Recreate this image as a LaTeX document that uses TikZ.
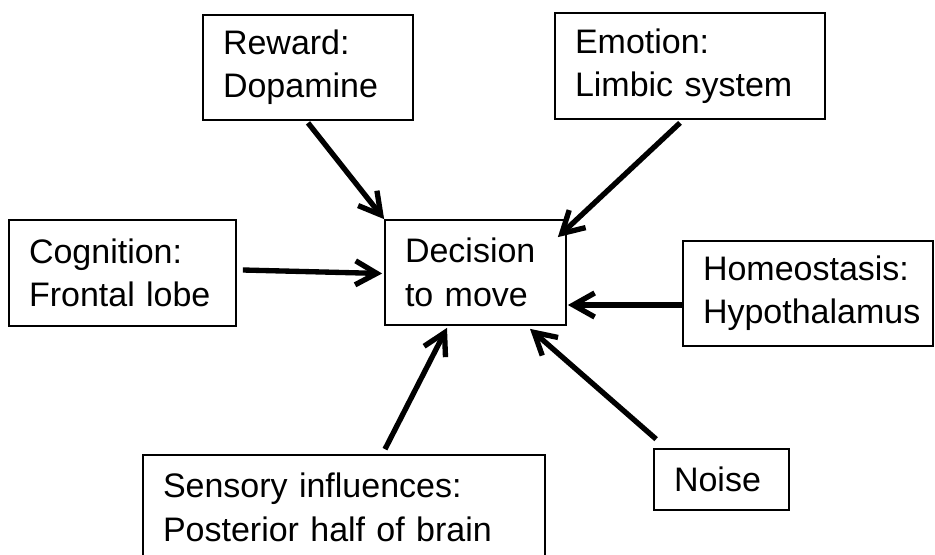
\documentclass[tikz,border=0pt]{standalone}
\usepackage{fontspec}
\setmainfont{Liberation Sans}
\usetikzlibrary{positioning,arrows.meta}
\begin{document}
\begin{tikzpicture}[x=0.75pt,y=0.75pt]
			\tikzstyle{box}=[draw=black, line width=1.3pt, inner xsep=15pt, inner ysep=0pt, align=left, font=\fontsize{25.5pt}{32.5pt}\selectfont]
			\tikzstyle{arr}=[black, line width=4pt, -{Straight Barb[length=16pt,width=18pt]}]
			\useasboundingbox (0,0) rectangle (935,-554);
			\clip (0,0) rectangle (935,-554);
			\node [box, text width=127.5pt, minimum height=78.75pt] (reward) at (308,-67.5) {Reward:\\Dopamine};
			\node [box, text width=172.5pt, minimum height=79.5pt] (emotion) at (690,-66) {Emotion:\\Limbic system};
			\node [box, text width=140.25pt, minimum height=79.5pt] (cognition) at (122.5,-273) {Cognition:\\Frontal lobe};
			\node [box, text width=105.75pt, minimum height=78.75pt] (decision) at (475.5,-272.5) {Decision\\to move};
			\node [box, text width=157.5pt, minimum height=78.75pt] (homeo) at (808,-293.5) {Homeostasis:\\\mbox{Hypothalamus}};
			\node [box, text width=71.25pt, minimum height=45.75pt] (noise) at (721.5,-479.5) {Noise};
			\node [box, text width=271.5pt, minimum height=78.75pt] (sensory) at (344,-507.5) {Sensory influences:\\Posterior half of brain};
			\draw [arr] ([shift={(0,-2)}]reward.south) -- (decision.north west);
			\draw [arr] ([shift={(-10,-3)}]emotion.south) -- ([shift={(-9,-18)}]decision.north east);
			\draw [arr] ([shift={(6,3)}]cognition.east) -- ([shift={(-2,-1)}]decision.west);
			\draw [arr] ([shift={(0,-11.5)}]homeo.west) -- ([shift={(1,-32.5)}]decision.east);
			\draw [arr] ([shift={(3,9)}]noise.north west) -- ([shift={(54.5,-3)}]decision.south);
			\draw [arr] ([shift={(41,5)}]sensory.north) -- ([shift={(-28.5,-2)}]decision.south);
\end{tikzpicture}
\end{document}
